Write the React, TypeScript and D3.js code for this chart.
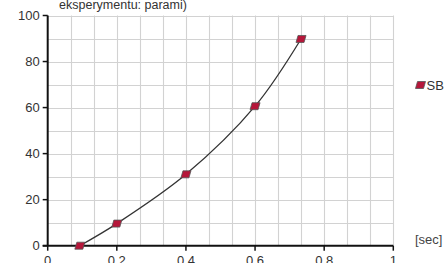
import { useEffect, useRef } from 'react';
import * as d3 from 'd3';

const seriesName = 'SB';
const xValues = [0.093, 0.2, 0.4, 0.6, 0.733];
const yValues = [0, 9.6, 31, 60.6, 89.8];
const xTicks = [0, 0.2, 0.4, 0.6, 0.8, 1];
const yTicks = [0, 20, 40, 60, 80, 100];
const titleText = 'eksperymentu: parami)';
const xUnit = '[sec]';

const App = () => {
  const svgRef = useRef<SVGSVGElement>(null);

  useEffect(() => {
    const svg = d3.select(svgRef.current);
    svg.selectAll('*').remove();

    const width = 446;
    const height = 263;
    const left = 47.7;
    const right = 393.3;
    const top = 15.5;
    const bottom = 245.7;
    const font = '"Liberation Sans", Arial, sans-serif';

    const x = d3.scaleLinear().domain([0, 1]).range([left, right]);
    const y = d3.scaleLinear().domain([0, 100]).range([bottom, top]);

    svg.attr('width', width).attr('height', height);

    // grid
    const grid = svg.append('g');
    grid
      .selectAll('.vg')
      .data(d3.range(1, 16).map(i => i / 15))
      .enter()
      .append('line')
      .attr('x1', d => Math.round(x(d)) + 0.5)
      .attr('x2', d => Math.round(x(d)) + 0.5)
      .attr('y1', y(100))
      .attr('y2', y(0))
      .attr('stroke', '#d2d2d2')
      .attr('stroke-width', 1.1);
    grid
      .selectAll('.hg')
      .data(d3.range(1, 11).map(i => i * 10))
      .enter()
      .append('line')
      .attr('x1', x(0))
      .attr('x2', x(1))
      .attr('y1', d => Math.round(y(d)) + 0.5)
      .attr('y2', d => Math.round(y(d)) + 0.5)
      .attr('stroke', '#d2d2d2')
      .attr('stroke-width', 1.1);

    // axes
    svg
      .append('line')
      .attr('x1', x(0))
      .attr('x2', x(0))
      .attr('y1', y(100))
      .attr('y2', y(0))
      .attr('stroke', '#111')
      .attr('stroke-width', 2);
    svg
      .append('line')
      .attr('x1', x(0) - 5)
      .attr('x2', x(1))
      .attr('y1', y(0))
      .attr('y2', y(0))
      .attr('stroke', '#111')
      .attr('stroke-width', 2);

    // y ticks
    const yt = svg.selectAll('.yt').data(yTicks).enter().append('g');
    yt.append('line')
      .attr('x1', x(0) - 5)
      .attr('x2', x(0))
      .attr('y1', d => y(d))
      .attr('y2', d => y(d))
      .attr('stroke', '#111')
      .attr('stroke-width', 1.5);
    yt.append('text')
      .attr('x', x(0) - 8)
      .attr('y', d => y(d))
      .attr('dy', '0.35em')
      .attr('text-anchor', 'end')
      .style('font-family', font)
      .style('font-size', '13px')
      .style('fill', '#333')
      .text(d => d);

    // x ticks (labels are cut by the bottom edge, as in the original)
    const xt = svg.selectAll('.xt').data(xTicks).enter().append('g');
    xt.append('line')
      .attr('x1', d => x(d))
      .attr('x2', d => x(d))
      .attr('y1', y(0))
      .attr('y2', y(0) + 5)
      .attr('stroke', '#111')
      .attr('stroke-width', 1.5);
    xt.append('text')
      .attr('x', d => x(d))
      .attr('y', y(0) + 19)
      .attr('text-anchor', 'middle')
      .style('font-family', font)
      .style('font-size', '13px')
      .style('fill', '#333')
      .text(d => d);

    svg
      .append('text')
      .attr('x', 415)
      .attr('y', y(0) - 2)
      .style('font-family', font)
      .style('font-size', '13px')
      .style('fill', '#444')
      .text(xUnit);

    svg
      .append('text')
      .attr('x', 123)
      .attr('y', 9)
      .attr('text-anchor', 'middle')
      .style('font-family', font)
      .style('font-size', '12.5px')
      .style('fill', '#333')
      .text(titleText);

    // line
    const data = xValues.map((v, i) => ({ x: v, y: yValues[i] }));
    const line = d3
      .line<{ x: number; y: number }>()
      .x(d => x(d.x))
      .y(d => y(d.y))
      .curve(d3.curveCatmullRom.alpha(0.5));
    svg
      .append('path')
      .datum(data)
      .attr('d', line)
      .attr('fill', 'none')
      .attr('stroke', '#333')
      .attr('stroke-width', 1.3);

    // markers (parallelogram)
    const marker = 'M-3,-3.5 L5,-3.5 L3,3.5 L-5,3.5 Z';
    svg
      .selectAll('.pt')
      .data(data)
      .enter()
      .append('path')
      .attr('d', marker)
      .attr('transform', d => `translate(${x(d.x)},${y(d.y)})`)
      .attr('fill', '#b5173a')
      .attr('stroke', '#555')
      .attr('stroke-width', 0.8);

    // legend
    const legend = svg.append('g').attr('transform', 'translate(420.5,85)');
    legend
      .append('path')
      .attr('d', marker)
      .attr('fill', '#b5173a')
      .attr('stroke', '#555')
      .attr('stroke-width', 0.8);
    legend
      .append('text')
      .attr('x', 6)
      .attr('dy', '0.36em')
      .style('font-family', font)
      .style('font-size', '13px')
      .style('fill', '#333')
      .text(seriesName);
  }, []);

  return (
    <svg
      ref={svgRef}
      style={{ position: 'absolute', left: 0, top: 0, display: 'block' }}
    ></svg>
  );
};

export default App;
